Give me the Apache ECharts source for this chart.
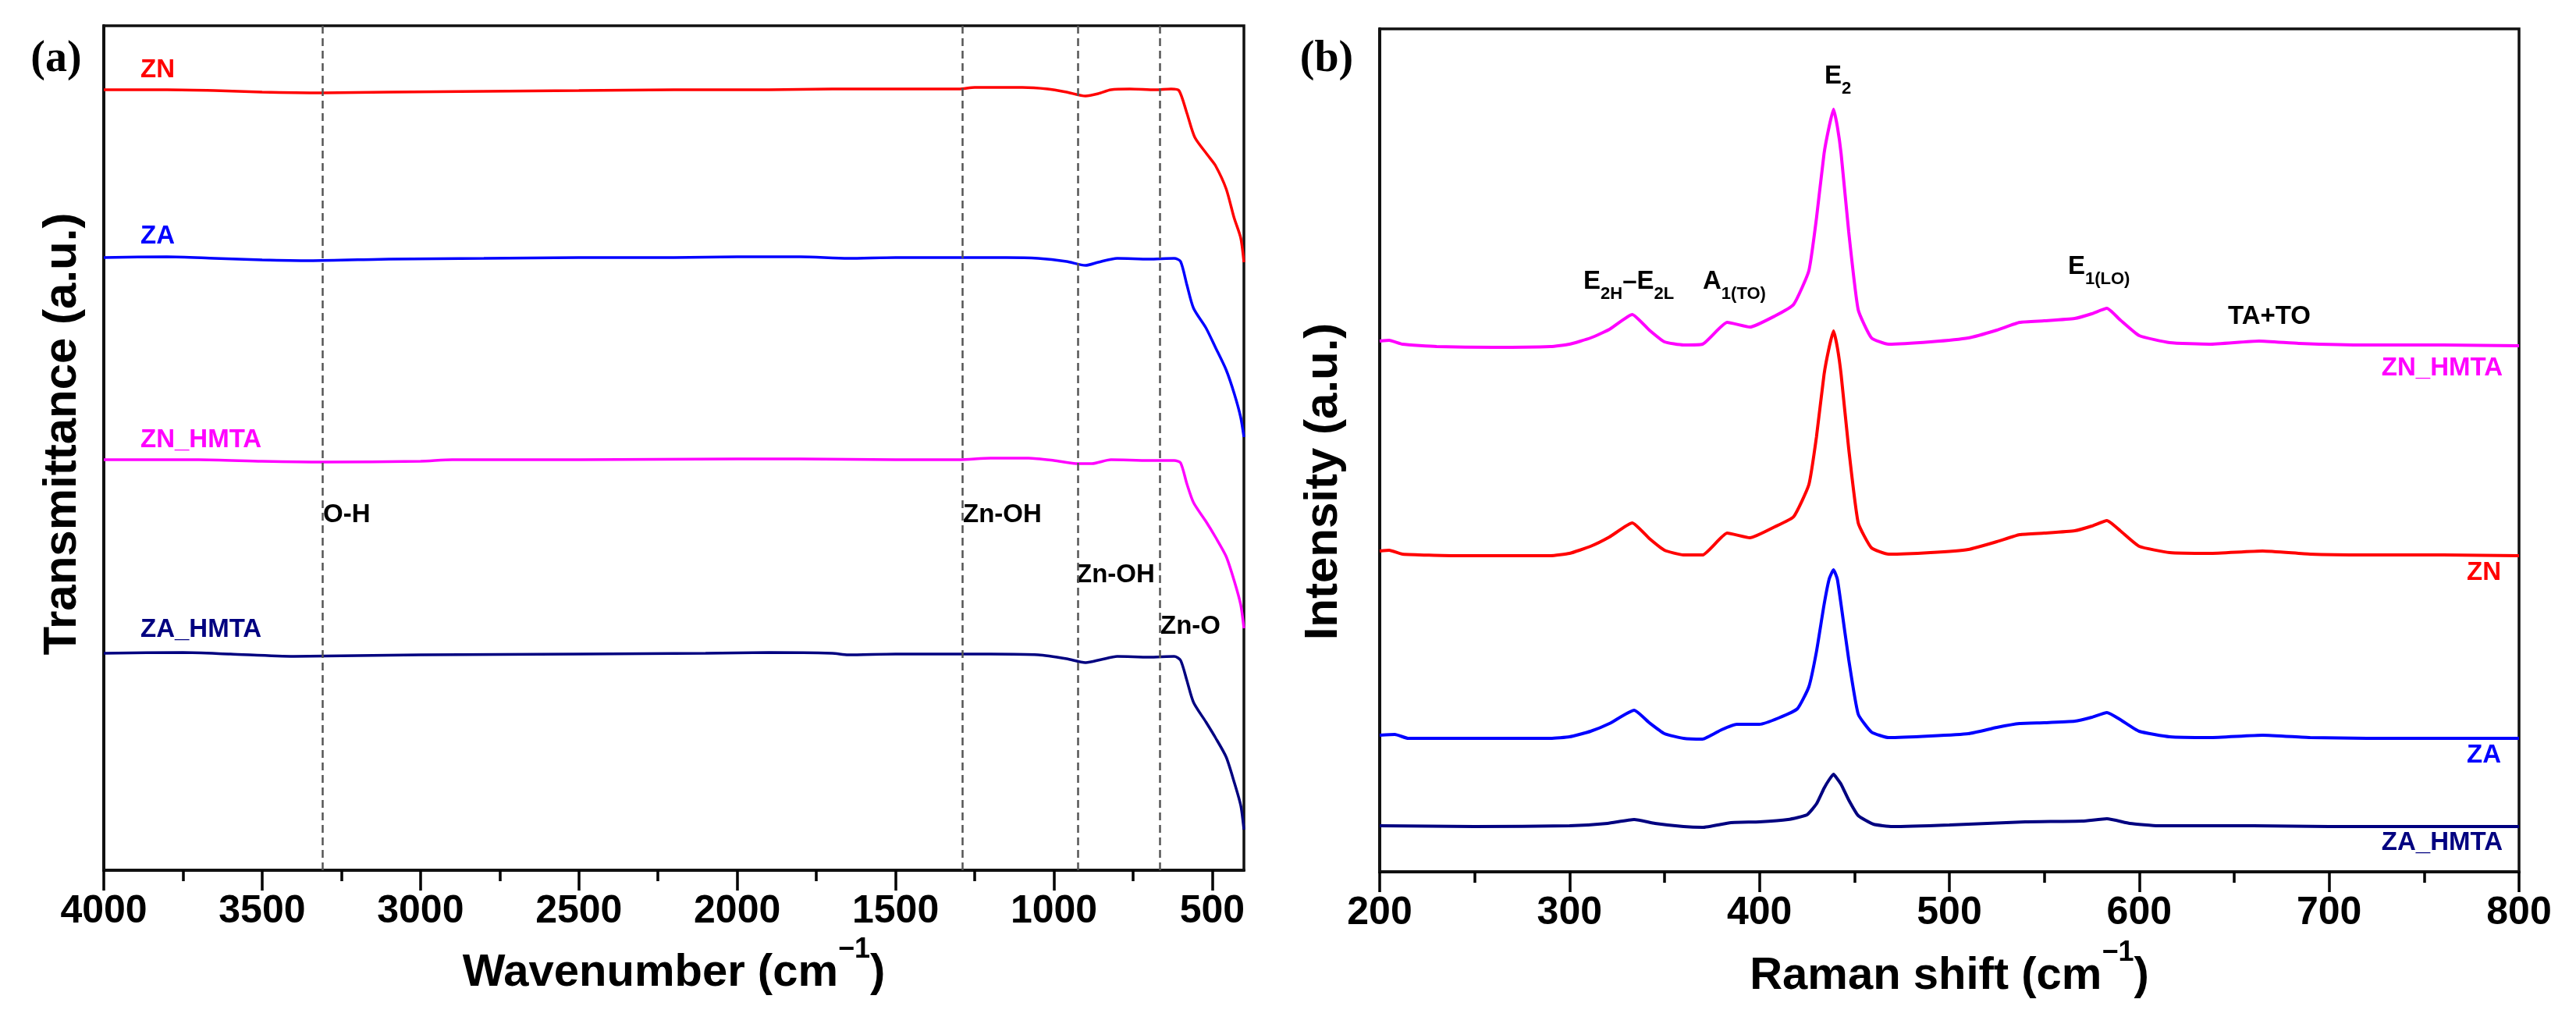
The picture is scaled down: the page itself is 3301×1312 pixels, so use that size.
<!DOCTYPE html>
<html>
<head>
<meta charset="utf-8">
<script src="https://cdn.jsdelivr.net/npm/echarts@6.0.0/dist/echarts.min.js"></script>
<style>
  html, body { margin: 0; padding: 0; background: #fff; }
  #main { width: 3301px; height: 1312px; }
</style>
</head>
<body>
<div id="main"></div>
<script>
// ---- FTIR (a): [wavenumber, transmittance a.u.] ----
var ftirZN = [[4000,1000],[3800,1000],[3650,999],[3500,997],[3310,996],[3100,997],[2800,998],[2500,999],
  [2200,1000],[1900,1000],[1700,1001],[1500,1001],[1300,1001],[1250,1003],[1100,1003],[1020,1001],
  [960,997],[900,992],[860,995],[820,1000],[760,1001],[680,1000],[630,1001],[605,999],[580,970],
  [555,939],[514,916],[490,903],[456,873],[431,836],[410,810],[400,779]];
var ftirZA = [[4000,785],[3800,786],[3650,784],[3500,782],[3350,781],[3100,783],[2800,784],[2500,785],
  [2200,785],[2000,786],[1800,786],[1650,784],[1500,785],[1300,785],[1150,785],[1050,784],
  [960,780],[900,775],[860,779],[800,784],[700,783],[620,784],[600,780],[580,750],
  [559,720],[520,695],[490,670],[456,641],[430,610],[410,580],[400,555]];
var ftirZNHMTA = [[4000,526],[3700,526],[3500,524],[3310,523],[3000,524],[2900,526],[2500,526],[2000,527],
  [1800,527],[1500,526],[1300,526],[1200,528],[1080,528],[1000,525],[930,521],[880,521],
  [820,526],[700,525],[620,525],[600,522],[580,495],[559,471],[520,447],[490,427],
  [456,402],[430,370],[410,340],[400,310]];
var ftirZAHMTA = [[4000,278],[3750,279],[3600,277],[3400,274],[3200,275],[3000,276],[2500,277],[2100,278],
  [1900,279],[1700,278],[1650,276],[1500,277],[1200,277],[1050,276],[960,271],[900,266],
  [850,270],[800,274],[700,273],[620,274],[600,269],[580,243],[559,215],[520,190],
  [490,170],[456,145],[430,112],[410,83],[400,52]];
var ftirBands = [3310, 1290, 925, 665];
var ftirTicks = [4000, 3500, 3000, 2500, 2000, 1500, 1000, 500];
var ftirMinorTicks = [3750, 3250, 2750, 2250, 1750, 1250, 750];

// ---- Raman (b): [raman shift, intensity a.u.] ----
var ramanZNHMTA = [[200,680],[205,681],[212,676],[230,673],[260,672],[290,673],[300,676],[311,684],
  [321,695],[333,714],[342,694],[350,679],[360,675],[370,676],[383,704],[395,698],[408,712],
  [418,727],[426,770],[430,837],[434,920],[436.7,955],[439,977],[441,955],[443,920],[447,820],[452,720],[459,684],
  [468,676],[490,679],[510,684],[525,694],[537,704],[550,706],[566,709],[575,715],[583,722],
  [590,707],[600,687],[616,678],[637,676],[663,680],[684,677],[720,675],[760,675],[800,674]];
var ramanZN = [[200,411],[205,412],[212,407],[240,405],[290,405],[300,408],[311,417],[321,429],
  [333,447],[342,427],[350,412],[360,406],[370,406],[383,434],[395,428],[408,442],[418,455],
  [426,496],[430,557],[434,637],[436.7,672],[439,693],[441,672],[443,637],[447,542],[452,447],[459,415],[468,407],
  [490,409],[510,413],[525,423],[537,432],[550,434],[566,437],[575,443],[583,450],[590,437],
  [600,417],[616,409],[637,408],[665,411],[690,407],[720,406],[760,406],[800,405]];
var ramanZA = [[200,175],[208,176],[215,171],[250,171],[290,171],[300,173],[311,180],[321,190],
  [334,207],[342,191],[350,177],[360,171],[370,170],[380,182],[388,189],[400,189],[410,197],
  [420,209],[426,237],[430,282],[434,342],[436.7,375],[439,387],[441,375],[443,342],[447,272],[452,202],[459,179],
  [468,172],[490,174],[510,177],[525,185],[537,190],[550,191],[566,193],[575,198],[583,204],
  [590,195],[600,180],[616,173],[637,172],[665,175],[690,172],[720,171],[800,171]];
var ramanZAHMTA = [[200,59],[250,58],[300,59],[320,62],[334,67],[345,62],[360,58],[370,57],
  [385,63],[400,64],[415,67],[425,73],[430,87],[434,107],[436.7,118],[439,125],[441,119],[443,112],[447,92],
  [452,72],[460,61],[470,58],[500,60],[540,64],[570,65],[583,68],[595,62],[610,59],
  [660,59],[700,58],[800,58]];

var FONT = '"Liberation Sans", Arial, sans-serif';
var C_ZN = '#ff0000', C_ZA = '#0000ff', C_ZNH = '#ff00ff', C_ZAH = '#000080';

var chart = echarts.init(document.getElementById('main'));

function lineSeries(name, data, color, xi, yi, smooth, width) {
  return {
    name: name, type: 'line', data: data, xAxisIndex: xi, yAxisIndex: yi,
    showSymbol: false, smooth: smooth,
    lineStyle: { color: color, width: width }, itemStyle: { color: color },
    silent: true, z: 3
  };
}

function txt(x, y, text, color, align) {
  return {
    type: 'text', x: x, y: y, silent: true,
    style: {
      text: text, fill: color || '#000', font: 'bold 33px ' + FONT,
      align: align || 'left', verticalAlign: 'middle',
      textAlign: align || 'left', textVerticalAlign: 'middle'
    }
  };
}

function subTxt(x, y, text) {
  return {
    type: 'text', x: x, y: y, silent: true,
    style: {
      text: text, fill: '#000', align: 'left', verticalAlign: 'middle',
      textAlign: 'left', textVerticalAlign: 'middle',
      rich: {
        b: { fontSize: 33, fontWeight: 'bold', fontFamily: FONT, lineHeight: 44, fill: '#000', verticalAlign: 'top' },
        s: { fontSize: 22, fontWeight: 'bold', fontFamily: FONT, lineHeight: 22, fill: '#000', verticalAlign: 'bottom' }
      }
    }
  };
}

// rotated y-axis title
function yTitle(x, y, text) {
  return {
    type: 'text', x: x, y: y, rotation: Math.PI / 2, silent: true,
    style: {
      text: text, fill: '#000', font: 'bold 60px ' + FONT,
      align: 'center', verticalAlign: 'middle', textAlign: 'center', textVerticalAlign: 'middle'
    }
  };
}

function plain(v) { return String(v); }

var xLabel = { fontSize: 50, fontWeight: 'bold', color: '#000', fontFamily: FONT, margin: 28, formatter: plain };
var xName = {
  fontSize: 58, fontWeight: 'bold', color: '#000', fontFamily: FONT, lineHeight: 96,
  rich: { sup: { fontSize: 36, fontWeight: 'bold', fontFamily: FONT, color: '#000', lineHeight: 36, verticalAlign: 'top' } }
};

var option = {
  animation: false,
  backgroundColor: '#fff',
  grid: [
    { left: 133, top: 33, width: 1461, height: 1082, show: true, borderColor: '#111', borderWidth: 3.5, backgroundColor: 'transparent' },
    { left: 1768, top: 37, width: 1460, height: 1080, show: true, borderColor: '#111', borderWidth: 3.5, backgroundColor: 'transparent' }
  ],
  xAxis: [
    {
      type: 'value', gridIndex: 0, position: 'bottom', min: 400, max: 4000, inverse: true,
      name: 'Wavenumber (cm{sup|−1})', nameLocation: 'middle', nameGap: 84, nameTextStyle: xName,
      axisLine: { show: true, lineStyle: { color: '#111', width: 4 } },
      axisTick: { show: true, inside: false, length: 26, lineStyle: { color: '#000', width: 3.5 }, customValues: ftirTicks },
      axisLabel: Object.assign({ customValues: ftirTicks }, xLabel),
      splitLine: { show: false }
    },
    {
      type: 'value', gridIndex: 0, position: 'bottom', offset: 0, min: 400, max: 4000, inverse: true,
      axisLine: { show: false },
      axisTick: { show: true, inside: false, length: 14, lineStyle: { color: '#000', width: 3.5 }, customValues: ftirMinorTicks },
      axisLabel: { show: false },
      splitLine: { show: false }
    },
    {
      type: 'value', gridIndex: 1, position: 'bottom', min: 200, max: 800, interval: 100,
      name: 'Raman shift (cm{sup|−1})', nameLocation: 'middle', nameGap: 86, nameTextStyle: xName,
      axisLine: { show: true, lineStyle: { color: '#111', width: 4 } },
      axisTick: { show: true, inside: false, length: 26, lineStyle: { color: '#000', width: 3.5 } },
      minorTick: { show: true, splitNumber: 2, length: 14, lineStyle: { color: '#000', width: 3.5 } },
      axisLabel: xLabel,
      splitLine: { show: false }
    }
  ],
  yAxis: [
    {
      type: 'value', gridIndex: 0, min: 0, max: 1082,
      axisLine: { show: true, lineStyle: { color: '#111', width: 4 } },
      axisTick: { show: false }, axisLabel: { show: false }, splitLine: { show: false }
    },
    {
      type: 'value', gridIndex: 1, min: 0, max: 1080,
      axisLine: { show: true, lineStyle: { color: '#111', width: 4 } },
      axisTick: { show: false }, axisLabel: { show: false }, splitLine: { show: false }
    }
  ],
  series: [
    Object.assign(lineSeries('ZN', ftirZN, C_ZN, 0, 0, 0.25, 3.5), {
      markLine: {
        silent: true, symbol: ['none', 'none'], label: { show: false },
        lineStyle: { color: '#555', width: 2.5, type: [10, 6] },
        data: ftirBands.map(function (v) { return { xAxis: v }; })
      }
    }),
    lineSeries('ZA', ftirZA, C_ZA, 0, 0, 0.25, 3.5),
    lineSeries('ZN_HMTA', ftirZNHMTA, C_ZNH, 0, 0, 0.25, 3.5),
    lineSeries('ZA_HMTA', ftirZAHMTA, C_ZAH, 0, 0, 0.25, 3.5),
    lineSeries('ZN_HMTA', ramanZNHMTA, C_ZNH, 2, 1, 0.15, 4),
    lineSeries('ZN', ramanZN, C_ZN, 2, 1, 0.15, 4),
    lineSeries('ZA', ramanZA, C_ZA, 2, 1, 0.15, 4),
    lineSeries('ZA_HMTA', ramanZAHMTA, C_ZAH, 2, 1, 0.15, 4)
  ],
  graphic: [
    { type: 'text', x: 72, y: 77, silent: true,
      style: { text: '(a)', fill: '#000', font: 'bold 56px "Liberation Serif", "Times New Roman", serif',
        align: 'center', verticalAlign: 'middle', textAlign: 'center', textVerticalAlign: 'middle' } },
    { type: 'text', x: 1700, y: 77, silent: true,
      style: { text: '(b)', fill: '#000', font: 'bold 56px "Liberation Serif", "Times New Roman", serif',
        align: 'center', verticalAlign: 'middle', textAlign: 'center', textVerticalAlign: 'middle' } },
    yTitle(80, 556, 'Transmittance (a.u.)'),
    yTitle(1696, 617, 'Intensity (a.u.)'),
    // panel (a) sample names and band labels
    txt(180, 90, 'ZN', C_ZN),
    txt(180, 303, 'ZA', C_ZA),
    txt(180, 564, 'ZN_HMTA', C_ZNH),
    txt(180, 807, 'ZA_HMTA', C_ZAH),
    txt(414, 660, 'O-H'),
    txt(1234, 660, 'Zn-OH'),
    txt(1379, 737, 'Zn-OH'),
    txt(1487, 803, 'Zn-O'),
    // panel (b) mode labels and sample names
    subTxt(2338, 103, '{b|E}{s|2}'),
    subTxt(2029, 366, '{b|E}{s|2H}{b|–E}{s|2L}'),
    subTxt(2182, 366, '{b|A}{s|1(TO)}'),
    subTxt(2650, 347, '{b|E}{s|1(LO)}'),
    txt(2855, 406, 'TA+TO'),
    txt(3207, 472, 'ZN_HMTA', C_ZNH, 'right'),
    txt(3205, 734, 'ZN', C_ZN, 'right'),
    txt(3205, 968, 'ZA', C_ZA, 'right'),
    txt(3207, 1080, 'ZA_HMTA', C_ZAH, 'right')
  ]
};

chart.setOption(option);
</script>
</body>
</html>
